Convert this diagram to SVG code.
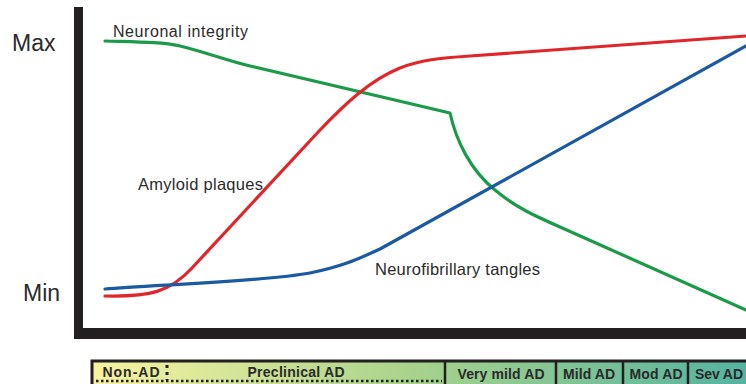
<svg xmlns="http://www.w3.org/2000/svg" width="746" height="384" viewBox="0 0 746 384">
<style>
.axis{fill:#231f20}
.curve{fill:none;stroke-width:3.2;stroke-linecap:round;stroke-linejoin:round}
.lbl{font-family:"Liberation Sans",Arial,sans-serif;fill:#2b2b2b}
.stage{font-family:"Liberation Sans",Arial,sans-serif;font-weight:bold;font-size:14px;fill:#2a2a2a;text-anchor:middle}
.div{stroke:#231f20;stroke-width:2.5}
</style>
<defs>
<linearGradient id="bargrad" x1="92" y1="0" x2="746" y2="0" gradientUnits="userSpaceOnUse">
<stop offset="0" stop-color="#f7f3a0"/>
<stop offset="0.5" stop-color="#a6d28c"/>
<stop offset="1" stop-color="#55b3a0"/>
</linearGradient>
</defs>
<rect width="746" height="384" fill="#ffffff"/>
<g id="axes">
<rect class="axis" x="74" y="7" width="9" height="332"/>
<rect class="axis" x="74" y="328" width="672" height="11"/>
<text class="lbl" x="12" y="51" font-size="23">Max</text>
<text class="lbl" x="23" y="301" font-size="23">Min</text>
</g>
<g id="curves">
<path id="neuronal" class="curve" stroke="#1b9a4a" d="M105,41 C140,42 162,42 180,46 C205,52 225,60 250,66 L450,113 C456,140 470,170 495,190 C515,207 535,216 560,227 L746,310"/>
<path id="amyloid" class="curve" stroke="#e1262b" d="M105,296 C150,297 170,292 192,268 L320,130 C345,104 370,80 400,68 C420,60 440,58 470,56 L746,36"/>
<path id="tangles" class="curve" stroke="#1a5aa2" d="M105,289 C150,285 260,282 310,273 C345,266 360,258 380,249 L746,46"/>
</g>
<g id="labels">
<text class="lbl" x="113" y="37" font-size="16" textLength="135">Neuronal integrity</text>
<text class="lbl" x="138" y="190" font-size="16.5" textLength="125">Amyloid plaques</text>
<text class="lbl" x="375" y="275" font-size="16.5" textLength="165">Neurofibrillary tangles</text>
</g>
<g id="stages">
<rect x="92" y="361" width="660" height="30" fill="url(#bargrad)" stroke="#231f20" stroke-width="3"/>
<line x1="96" y1="381" x2="442" y2="381" stroke="#231f20" stroke-width="2.5" stroke-dasharray="2.5,2.5"/>
<line x1="167" y1="365" x2="167" y2="380" stroke="#231f20" stroke-width="3" stroke-dasharray="3,4"/>
<line class="div" x1="445" y1="361" x2="445" y2="384"/>
<line class="div" x1="556" y1="361" x2="556" y2="384"/>
<line class="div" x1="623" y1="361" x2="623" y2="384"/>
<line class="div" x1="688" y1="361" x2="688" y2="384"/>
<text class="stage" x="131" y="377" textLength="57">Non-AD</text>
<text class="stage" x="296" y="377" textLength="97">Preclinical AD</text>
<text class="stage" x="501" y="379" textLength="87">Very mild AD</text>
<text class="stage" x="589" y="379" textLength="52">Mild AD</text>
<text class="stage" x="656" y="379" textLength="53">Mod AD</text>
<text class="stage" x="719" y="379" textLength="48">Sev AD</text>
</g>
</svg>
